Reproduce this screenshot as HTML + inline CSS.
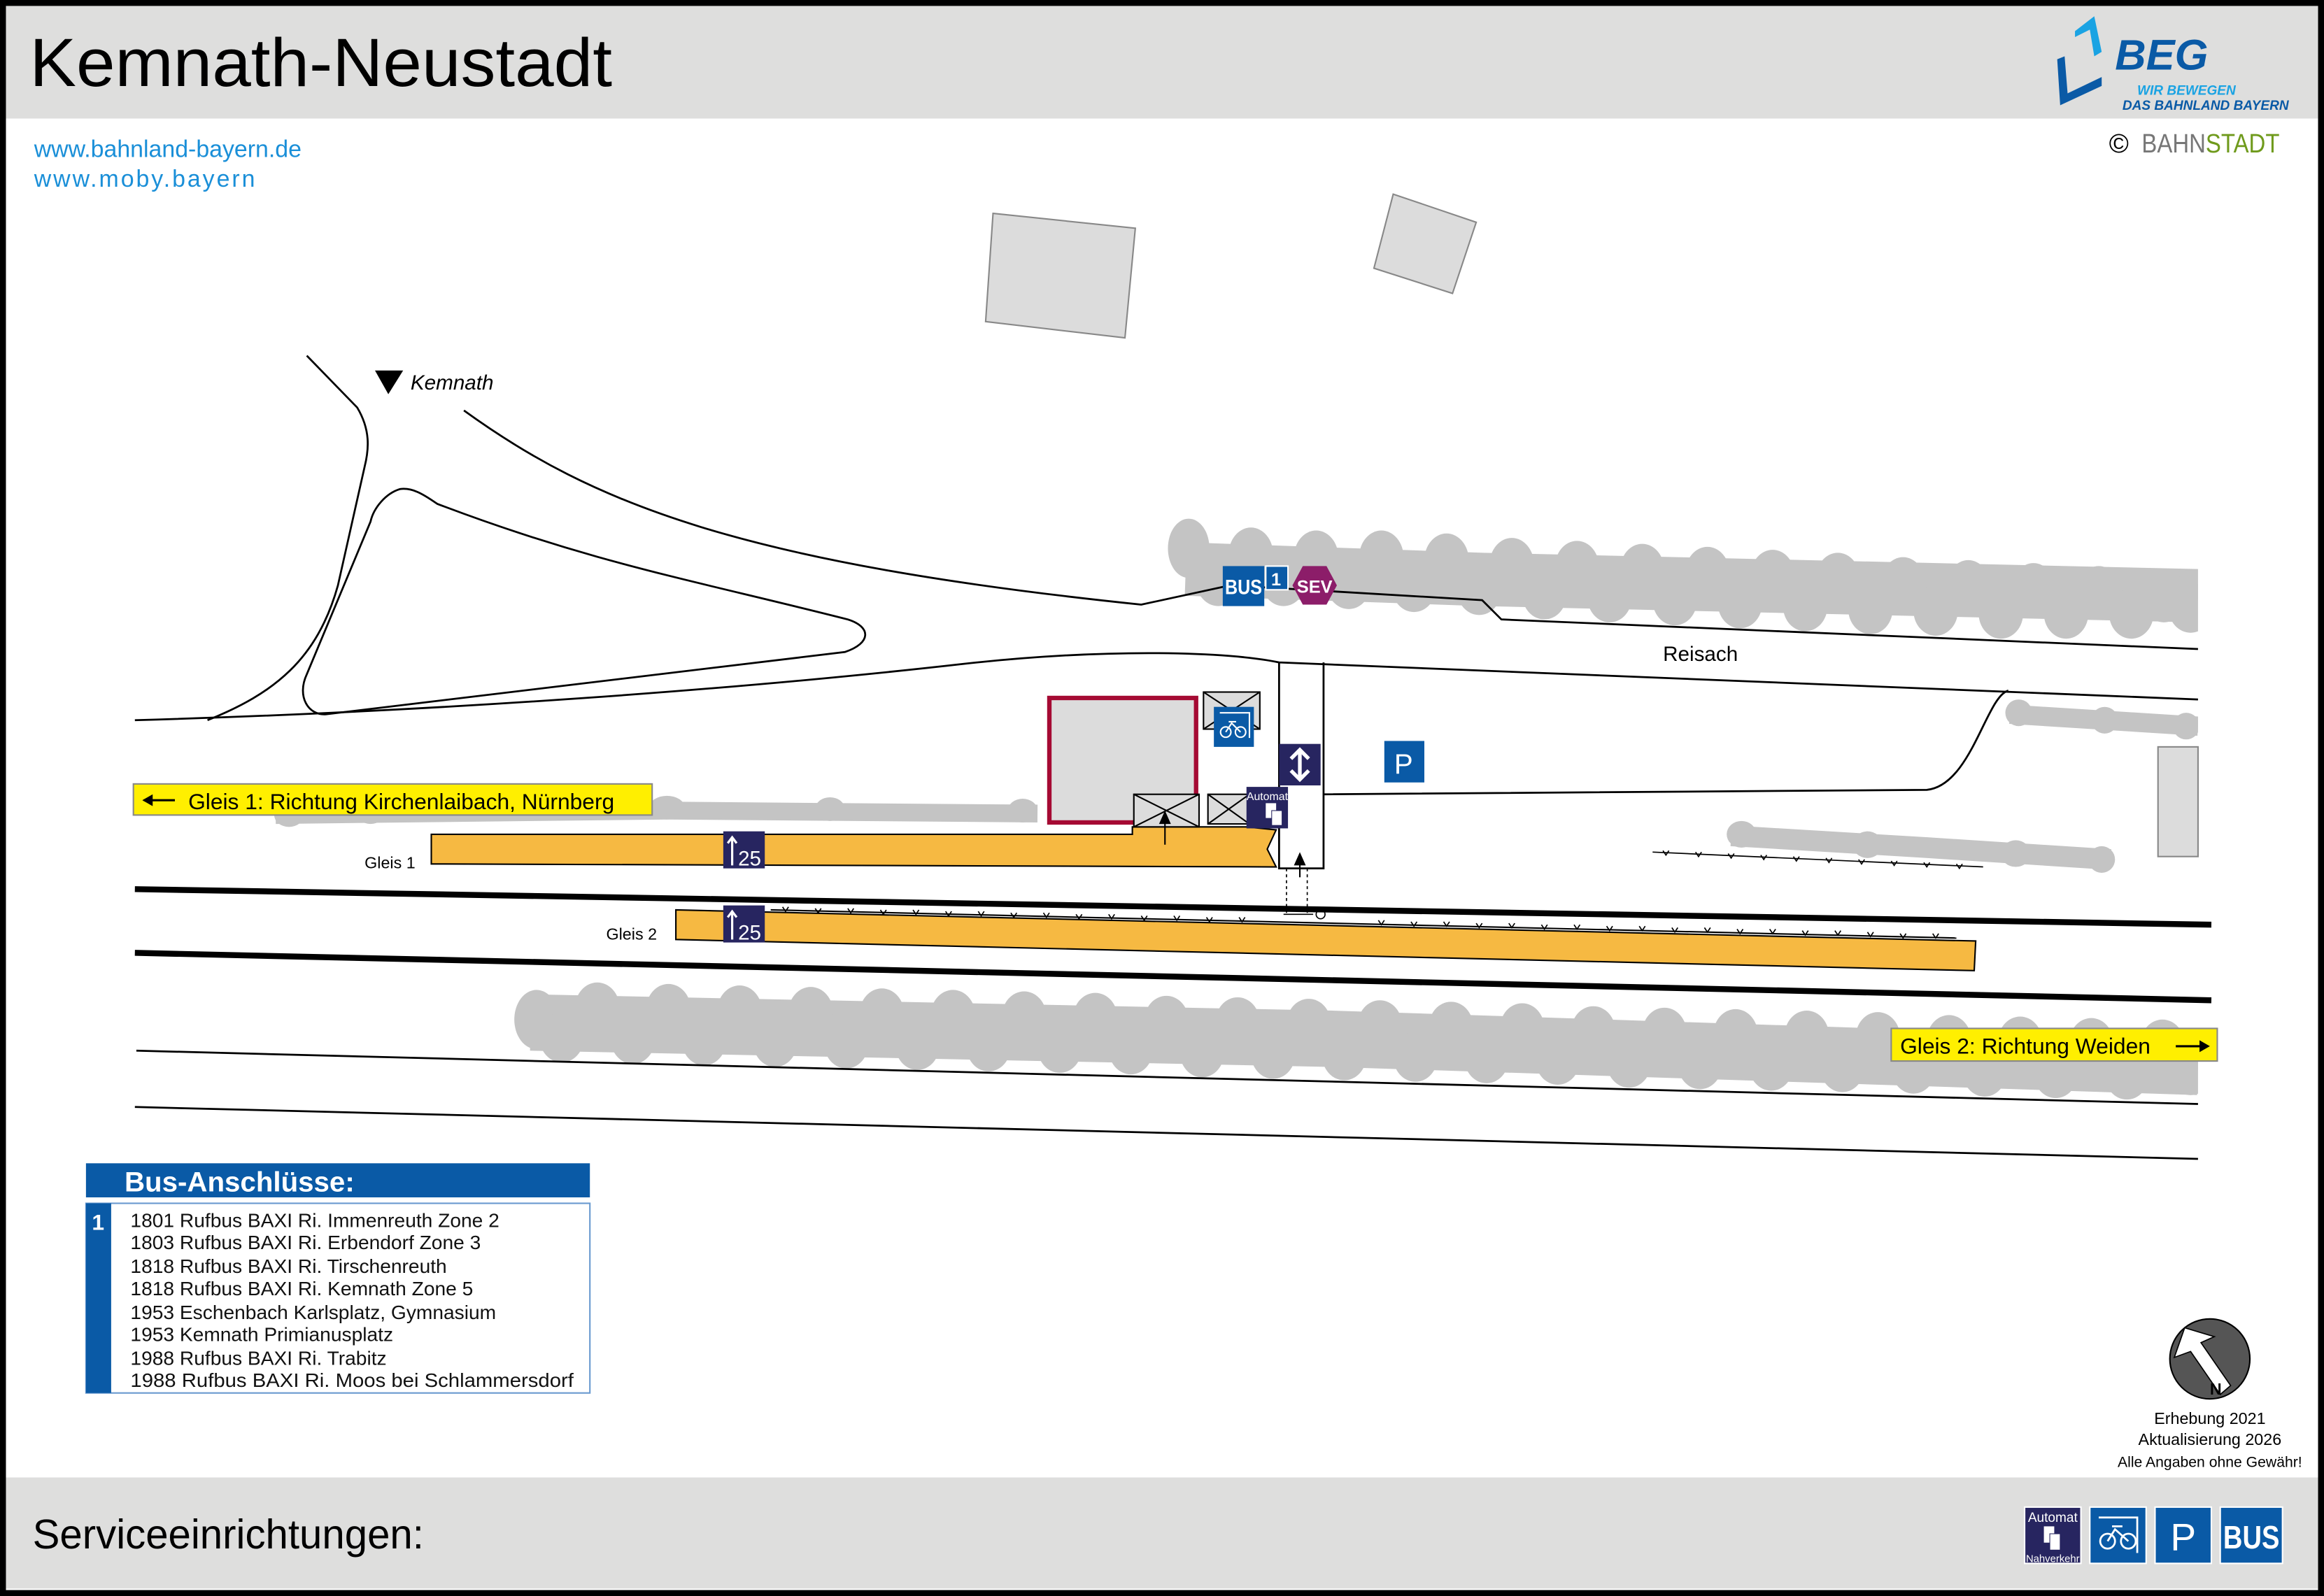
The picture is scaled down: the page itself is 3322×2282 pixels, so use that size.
<!DOCTYPE html>
<html><head><meta charset="utf-8"><style>
html,body{margin:0;padding:0;background:#fff}
svg{display:block}
text{font-family:"Liberation Sans",sans-serif}
</style></head><body>
<svg width="3322" height="2282" viewBox="0 0 1568 1077" preserveAspectRatio="none" xmlns="http://www.w3.org/2000/svg">
<defs><clipPath id="c"><rect x="0" y="0" width="1483" height="1077"/></clipPath></defs>
<rect x="0" y="0" width="1568" height="1077" fill="#fff"/>
<rect x="4" y="4" width="1560" height="76" fill="#dededd"/>
<rect x="4" y="997" width="1560" height="75" fill="#dededd"/>
<rect x="2" y="2" width="1564" height="1073" fill="none" stroke="#000" stroke-width="4"/>
<text x="20" y="58" font-size="46" fill="#000" textLength="393" lengthAdjust="spacingAndGlyphs">Kemnath-Neustadt</text>
<text x="22" y="1045" font-size="28" fill="#000" textLength="264" lengthAdjust="spacingAndGlyphs">Serviceeinrichtungen:</text>
<text x="23" y="106" font-size="16" fill="#1a8fd8">www.bahnland-bayern.de</text>
<text x="23" y="126" font-size="16" fill="#1a8fd8" letter-spacing="1.4">www.moby.bayern</text>
<!-- BEG logo -->
<polygon points="1413,11 1418,35 1413,38 1410,20 1400,25 1400,21" fill="#1aa3e3"/>
<polygon points="1388,40 1393,38 1395,63 1418,52 1418,58 1390,71" fill="#0a5aa6"/>
<text x="1427" y="47" font-size="29" font-weight="bold" font-style="italic" fill="#0a5aa6">BEG</text>
<text x="1442" y="64" font-size="9" font-weight="bold" font-style="italic" fill="#1aa3e3">WIR BEWEGEN</text>
<text x="1432" y="74" font-size="9" font-weight="bold" font-style="italic" fill="#0a5aa6">DAS BAHNLAND BAYERN</text>
<text x="1423" y="103" font-size="18" fill="#000">©</text>
<text x="1445" y="103" font-size="18" fill="#777" textLength="93" lengthAdjust="spacingAndGlyphs">BAHN<tspan fill="#6f9a1c">STADT</tspan></text>
<!-- buildings -->
<polygon points="670,144 766,154 759,228 665,217" fill="#dcdcdc" stroke="#888" stroke-width="1"/>
<polygon points="940,131 996,150 980,198 927,181" fill="#dcdcdc" stroke="#888" stroke-width="1"/>
<rect x="1456" y="504" width="27" height="74" fill="#dcdcdc" stroke="#888" stroke-width="1"/>
<!-- trees -->
<g fill="#c4c4c4" stroke="none" clip-path="url(#c)">
<polyline points="800,384 1000,391 1483,402" fill="none" stroke="#c4c4c4" stroke-width="36"/>
<g>
<ellipse cx="802" cy="370" rx="14" ry="20"/><ellipse cx="822" cy="392" rx="15" ry="17"/><ellipse cx="844" cy="374" rx="15" ry="18"/><ellipse cx="866" cy="392" rx="15" ry="17"/><ellipse cx="888" cy="376" rx="15" ry="18"/><ellipse cx="910" cy="394" rx="15" ry="17"/><ellipse cx="932" cy="376" rx="15" ry="18"/><ellipse cx="954" cy="396" rx="15" ry="17"/><ellipse cx="976" cy="378" rx="15" ry="18"/><ellipse cx="998" cy="398" rx="15" ry="17"/><ellipse cx="1020" cy="381" rx="15" ry="18"/><ellipse cx="1042" cy="401" rx="15" ry="17"/><ellipse cx="1064" cy="383" rx="15" ry="18"/><ellipse cx="1086" cy="403" rx="15" ry="17"/><ellipse cx="1108" cy="385" rx="15" ry="18"/><ellipse cx="1130" cy="405" rx="15" ry="17"/><ellipse cx="1152" cy="387" rx="15" ry="18"/><ellipse cx="1174" cy="407" rx="15" ry="17"/><ellipse cx="1196" cy="389" rx="15" ry="18"/><ellipse cx="1218" cy="409" rx="15" ry="17"/><ellipse cx="1240" cy="391" rx="15" ry="18"/><ellipse cx="1262" cy="411" rx="15" ry="17"/><ellipse cx="1284" cy="394" rx="15" ry="18"/><ellipse cx="1306" cy="412" rx="15" ry="17"/><ellipse cx="1328" cy="396" rx="15" ry="18"/><ellipse cx="1350" cy="414" rx="15" ry="17"/><ellipse cx="1372" cy="398" rx="15" ry="18"/><ellipse cx="1394" cy="414" rx="15" ry="17"/><ellipse cx="1416" cy="400" rx="15" ry="18"/><ellipse cx="1438" cy="414" rx="15" ry="17"/><ellipse cx="1460" cy="402" rx="15" ry="18"/><ellipse cx="1478" cy="410" rx="15" ry="17"/>
</g>
<polyline points="358,690 900,701 1483,720" fill="none" stroke="#c4c4c4" stroke-width="38"/>
<g>
<ellipse cx="362" cy="688" rx="15" ry="20"/><ellipse cx="379" cy="700" rx="15" ry="17"/><ellipse cx="403" cy="680" rx="15" ry="17"/><ellipse cx="427" cy="701" rx="15" ry="17"/><ellipse cx="451" cy="681" rx="15" ry="17"/><ellipse cx="475" cy="702" rx="15" ry="17"/><ellipse cx="499" cy="682" rx="15" ry="17"/><ellipse cx="523" cy="703" rx="15" ry="17"/><ellipse cx="547" cy="683" rx="15" ry="17"/><ellipse cx="571" cy="704" rx="15" ry="17"/><ellipse cx="595" cy="684" rx="15" ry="17"/><ellipse cx="619" cy="705" rx="15" ry="17"/><ellipse cx="643" cy="685" rx="15" ry="17"/><ellipse cx="667" cy="706" rx="15" ry="17"/><ellipse cx="691" cy="686" rx="15" ry="17"/><ellipse cx="715" cy="707" rx="15" ry="17"/><ellipse cx="739" cy="687" rx="15" ry="17"/><ellipse cx="763" cy="708" rx="15" ry="17"/><ellipse cx="787" cy="689" rx="15" ry="17"/><ellipse cx="811" cy="710" rx="15" ry="17"/><ellipse cx="835" cy="690" rx="15" ry="17"/><ellipse cx="859" cy="711" rx="15" ry="17"/><ellipse cx="883" cy="691" rx="15" ry="17"/><ellipse cx="907" cy="712" rx="15" ry="17"/><ellipse cx="931" cy="692" rx="15" ry="17"/><ellipse cx="955" cy="713" rx="15" ry="17"/><ellipse cx="979" cy="693" rx="15" ry="17"/><ellipse cx="1003" cy="714" rx="15" ry="17"/><ellipse cx="1027" cy="694" rx="15" ry="17"/><ellipse cx="1051" cy="715" rx="15" ry="17"/><ellipse cx="1075" cy="696" rx="15" ry="17"/><ellipse cx="1099" cy="717" rx="15" ry="17"/><ellipse cx="1123" cy="697" rx="15" ry="17"/><ellipse cx="1147" cy="718" rx="15" ry="17"/><ellipse cx="1171" cy="698" rx="15" ry="17"/><ellipse cx="1195" cy="719" rx="15" ry="17"/><ellipse cx="1219" cy="699" rx="15" ry="17"/><ellipse cx="1243" cy="720" rx="15" ry="17"/><ellipse cx="1267" cy="700" rx="15" ry="17"/><ellipse cx="1291" cy="721" rx="15" ry="17"/><ellipse cx="1315" cy="702" rx="15" ry="17"/><ellipse cx="1339" cy="723" rx="15" ry="17"/><ellipse cx="1363" cy="703" rx="15" ry="17"/><ellipse cx="1387" cy="724" rx="15" ry="17"/><ellipse cx="1411" cy="704" rx="15" ry="17"/><ellipse cx="1435" cy="725" rx="15" ry="17"/><ellipse cx="1459" cy="705" rx="15" ry="17"/><ellipse cx="1478" cy="722" rx="15" ry="17"/>
</g>
<g>
<ellipse cx="195" cy="550" rx="10" ry="8"/><ellipse cx="250" cy="548" rx="10" ry="8"/><ellipse cx="450" cy="545" rx="12" ry="8"/><ellipse cx="560" cy="546" rx="10" ry="8"/><ellipse cx="690" cy="547" rx="10" ry="8"/>
<ellipse cx="1175" cy="563" rx="10" ry="9"/><ellipse cx="1260" cy="570" rx="10" ry="9"/><ellipse cx="1360" cy="576" rx="10" ry="9"/><ellipse cx="1418" cy="580" rx="9" ry="9"/>
<ellipse cx="1362" cy="481" rx="9" ry="9"/><ellipse cx="1420" cy="486" rx="9" ry="9"/><ellipse cx="1475" cy="490" rx="9" ry="9"/>
</g>
<polyline points="186,550 450,547 700,549" fill="none" stroke="#c4c4c4" stroke-width="12"/>
<polyline points="1168,564 1300,572 1424,580" fill="none" stroke="#c4c4c4" stroke-width="14"/>
<polyline points="1356,482 1483,490" fill="none" stroke="#c4c4c4" stroke-width="13"/>
</g>
<!-- roads -->
<g fill="none" stroke="#000" stroke-width="1.3">
<path d="M207,240 L241,275 C250,290 249,303 246,315 L228,395 C214,445 185,468 140,486"/>
<path d="M270,330 C260,333 252,343 250,352 L207,455 C200,470 208,483 220,482 L570,440 C588,434 588,423 572,418 C470,392 400,380 295,340 C285,333 278,329 270,330 Z"/>
<path d="M313,277 C400,340 500,380 770,408 L830,395 L1000,405 L1013,418 L1483,438"/>
<path d="M91,486 C300,480 500,465 650,448 C750,437 830,440 863,447 L1483,472"/>
<path d="M863,447 L863,586 L893,586 L893,447"/>
<path d="M893,536 L1300,533 C1330,530 1340,470 1355,466"/>
<path d="M92,709 L1483,745"/>
<path d="M91,747 L1483,782"/>
</g>
<text x="1122" y="446" font-size="14">Reisach</text>
<polygon points="253,250 272,250 262,266" fill="#000"/>
<text x="277" y="263" font-size="14" font-style="italic">Kemnath</text>
<!-- tracks -->
<line x1="91" y1="600" x2="1492" y2="624" stroke="#000" stroke-width="4"/>
<line x1="91" y1="643" x2="1492" y2="675" stroke="#000" stroke-width="4"/>
<!-- platforms -->
<polygon points="291,563 764,563 764,558 841,558 861,560 855,573 861,585 291,583" fill="#f6b942" stroke="#000" stroke-width="1"/>
<polygon points="456,614 1333,635 1332,655 456,634" fill="#f6b942" stroke="#000" stroke-width="1"/>
<line x1="520" y1="614" x2="1320" y2="633" stroke="#000" stroke-width="1"/>
<g stroke="#000" stroke-width="0.8" fill="none">
<path d="M528,612 l2,3 l2,-3 M550,613 l2,3 l2,-3 M572,613 l2,3 l2,-3 M594,614 l2,3 l2,-3 M616,614 l2,3 l2,-3 M638,615 l2,3 l2,-3 M660,615 l2,3 l2,-3 M682,616 l2,3 l2,-3 M704,616 l2,3 l2,-3 M726,617 l2,3 l2,-3 M748,617 l2,3 l2,-3 M770,618 l2,3 l2,-3 M792,618 l2,3 l2,-3 M814,619 l2,3 l2,-3 M836,619 l2,3 l2,-3 M930,621 l2,3 l2,-3 M952,622 l2,3 l2,-3 M974,622 l2,3 l2,-3 M996,623 l2,3 l2,-3 M1018,623 l2,3 l2,-3 M1040,624 l2,3 l2,-3 M1062,624 l2,3 l2,-3 M1084,625 l2,3 l2,-3 M1106,625 l2,3 l2,-3 M1128,626 l2,3 l2,-3 M1150,626 l2,3 l2,-3 M1172,627 l2,3 l2,-3 M1194,627 l2,3 l2,-3 M1216,628 l2,3 l2,-3 M1238,628 l2,3 l2,-3 M1260,629 l2,3 l2,-3 M1282,630 l2,3 l2,-3 M1304,630 l2,3 l2,-3"/>
<line x1="1115" y1="575" x2="1338" y2="585"/>
<path d="M1122,574 l2,3 l2,-3 M1144,575 l2,3 l2,-3 M1166,576 l2,3 l2,-3 M1188,577 l2,3 l2,-3 M1210,578 l2,3 l2,-3 M1232,579 l2,3 l2,-3 M1254,580 l2,3 l2,-3 M1276,581 l2,3 l2,-3 M1298,582 l2,3 l2,-3 M1320,583 l2,3 l2,-3"/>
<path d="M868,586 L868,617 M882,586 L882,617" stroke-dasharray="2,2"/>
<line x1="866" y1="617" x2="886" y2="617"/>
<circle cx="891" cy="617" r="3"/>
</g>
<text x="246" y="586" font-size="11">Gleis 1</text>
<text x="409" y="634" font-size="11">Gleis 2</text>
<!-- station building -->
<rect x="708" y="471" width="99" height="84" fill="#dcdcdc" stroke="#a50a33" stroke-width="3"/>
<g fill="#dcdcdc" stroke="#000" stroke-width="1">
<rect x="765" y="536" width="44" height="22"/><path d="M765,536 L809,558 M809,536 L765,558"/>
<rect x="815" y="536" width="28" height="20"/><path d="M815,536 L843,556 M843,536 L815,556"/>
<rect x="812" y="467" width="38" height="25"/><path d="M812,467 L850,492 M850,467 L812,492"/>
</g>
<path d="M786,570 L786,555" stroke="#000" stroke-width="1"/><polygon points="782,556 790,556 786,547" fill="#000"/>
<path d="M877,592 L877,582" stroke="#000" stroke-width="1"/><polygon points="873,584 881,584 877,575" fill="#000"/>
<!-- icons -->
<rect x="819" y="477" width="27" height="27" fill="#0a5aa6"/>
<g stroke="#fff" stroke-width="1" fill="none"><path d="M823,481 L843,481 L843,498"/><circle cx="827" cy="494" r="3.5"/><circle cx="837" cy="494" r="3.5"/><path d="M827,494 L831,488 L837,494 M829,487 L834,487"/></g>
<rect x="863" y="502" width="28" height="28" fill="#272560"/>
<path d="M877,507 L877,525 M871,512 L877,506 L883,512 M871,520 L877,526 L883,520" stroke="#fff" stroke-width="2.5" fill="none"/>
<rect x="841" y="531" width="28" height="28" fill="#272560"/>
<text x="855" y="540" font-size="7.5" fill="#fff" text-anchor="middle">Automat</text>
<rect x="854" y="542" width="7" height="10" fill="#fff"/><rect x="858" y="547" width="7" height="10" fill="#fff" stroke="#272560" stroke-width="0.5"/>
<rect x="934" y="500" width="27" height="28" fill="#0a5aa6"/>
<text x="947" y="522" font-size="19" fill="#fff" text-anchor="middle">P</text>
<rect x="825" y="382" width="28" height="27" fill="#0a5aa6"/>
<text x="839" y="401" font-size="14" font-weight="bold" fill="#fff" text-anchor="middle" textLength="25" lengthAdjust="spacingAndGlyphs">BUS</text>
<rect x="854" y="382" width="15" height="16" fill="#0a5aa6" stroke="#fff"/>
<text x="861" y="395" font-size="12" font-weight="bold" fill="#fff" text-anchor="middle">1</text>
<polygon points="879,382 895,382 902,395 895,408 879,408 872,395" fill="#8c1d69"/>
<text x="887" y="400" font-size="12" font-weight="bold" fill="#fff" text-anchor="middle">SEV</text>
<rect x="488" y="561" width="28" height="25" fill="#272560"/>
<rect x="488" y="611" width="28" height="25" fill="#272560"/>
<g stroke="#fff" stroke-width="1.5" fill="none"><path d="M494,584 L494,566 M491,569 L494,565 L497,569"/><path d="M494,634 L494,616 M491,619 L494,615 L497,619"/></g>
<text x="498" y="584" font-size="14" fill="#fff">25</text>
<text x="498" y="634" font-size="14" fill="#fff">25</text>
<!-- direction labels -->
<rect x="90" y="529" width="350" height="21" fill="#ffef00" stroke="#888" stroke-width="1"/>
<path d="M97,540 L118,540" stroke="#000" stroke-width="1.5"/><polygon points="96,540 103,536 103,544" fill="#000"/>
<text x="127" y="546" font-size="15">Gleis 1: Richtung Kirchenlaibach, Nürnberg</text>
<rect x="1276" y="694" width="220" height="22" fill="#ffef00" stroke="#888" stroke-width="1"/>
<text x="1282" y="711" font-size="15">Gleis 2: Richtung Weiden</text>
<path d="M1468,706 L1489,706" stroke="#000" stroke-width="1.5"/><polygon points="1491,706 1484,702 1484,710" fill="#000"/>
<!-- bus table -->
<rect x="58" y="785" width="340" height="23" fill="#0a5aa6"/>
<text x="84" y="804" font-size="19" font-weight="bold" fill="#fff">Bus-Anschlüsse:</text>
<rect x="58" y="812" width="340" height="128" fill="#fff" stroke="#6a9ad0" stroke-width="1"/>
<rect x="58" y="812" width="17" height="128" fill="#0a5aa6"/>
<text x="62" y="830" font-size="15" font-weight="bold" fill="#fff">1</text>
<g font-size="13.3" fill="#111">
<text x="88" y="828">1801 Rufbus BAXI Ri. Immenreuth Zone 2</text>
<text x="88" y="843">1803 Rufbus BAXI Ri. Erbendorf Zone 3</text>
<text x="88" y="859">1818 Rufbus BAXI Ri. Tirschenreuth</text>
<text x="88" y="874">1818 Rufbus BAXI Ri. Kemnath Zone 5</text>
<text x="88" y="890">1953 Eschenbach Karlsplatz, Gymnasium</text>
<text x="88" y="905">1953 Kemnath Primianusplatz</text>
<text x="88" y="921">1988 Rufbus BAXI Ri. Trabitz</text>
<text x="88" y="936" textLength="299" lengthAdjust="spacingAndGlyphs">1988 Rufbus BAXI Ri. Moos bei Schlammersdorf</text>
</g>
<!-- north -->
<circle cx="1491" cy="917" r="27" fill="#555" stroke="#000"/>
<polygon points="1474,896 1467,916 1478,912 1498,941 1505,935 1485,906 1494,902" fill="#fff" stroke="#000" stroke-width="0.8"/>
<text x="1491" y="941" font-size="11" font-weight="bold">N</text>
<g font-size="11" text-anchor="middle"><text x="1491" y="961">Erhebung 2021</text><text x="1491" y="975">Aktualisierung 2026</text><text x="1491" y="990" font-size="10">Alle Angaben ohne Gewähr!</text></g>
<!-- footer icons -->
<rect x="1366" y="1017" width="38" height="38" fill="#272560" stroke="#fff"/>
<text x="1385" y="1027" font-size="9" fill="#fff" text-anchor="middle">Automat</text>
<rect x="1379" y="1030" width="7" height="11" fill="#fff"/><rect x="1383" y="1035" width="7" height="11" fill="#fff" stroke="#272560" stroke-width="0.5"/>
<text x="1385" y="1054" font-size="7" fill="#fff" text-anchor="middle">Nahverkehr</text>
<rect x="1410" y="1017" width="38" height="38" fill="#0a5aa6" stroke="#fff"/>
<g stroke="#fff" stroke-width="1.3" fill="none"><path d="M1416,1024 L1442,1024 L1442,1048"/><circle cx="1422" cy="1040" r="5"/><circle cx="1436" cy="1040" r="5"/><path d="M1422,1040 L1427,1032 L1436,1040 M1425,1030 L1432,1030"/></g>
<rect x="1454" y="1017" width="38" height="38" fill="#0a5aa6" stroke="#fff"/>
<text x="1473" y="1046" font-size="26" fill="#fff" text-anchor="middle">P</text>
<rect x="1498" y="1017" width="42" height="38" fill="#0a5aa6" stroke="#fff"/>
<text x="1519" y="1045" font-size="22" font-weight="bold" fill="#fff" text-anchor="middle" textLength="38" lengthAdjust="spacingAndGlyphs">BUS</text>
</svg>
</body></html>
